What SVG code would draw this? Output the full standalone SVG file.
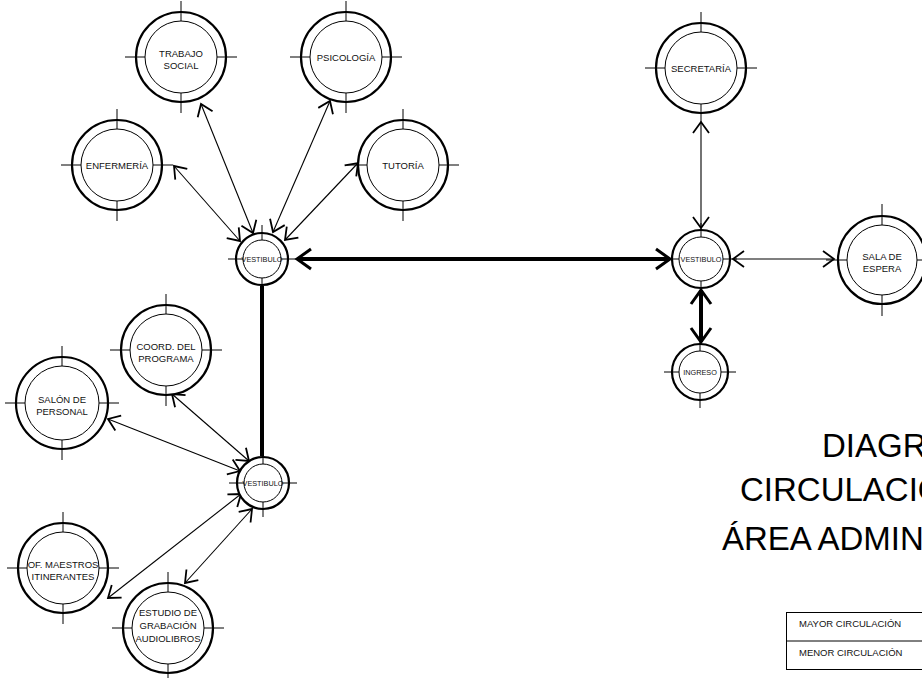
<svg xmlns="http://www.w3.org/2000/svg" width="922" height="678" viewBox="0 0 922 678">
  <style>
    .outer { fill: #fff; stroke: #000; stroke-width: 2.2; }
    .inner { fill: none; stroke: #000; stroke-width: 1; }
    .tick { fill: none; stroke: #000; stroke-width: 1; }
    .lbl { font-family: "Liberation Sans", Arial, sans-serif; font-size: 9.5px; text-anchor: middle; fill: #111; }
    .lbl-s { font-family: "Liberation Sans", Arial, sans-serif; font-size: 7.3px; text-anchor: middle; fill: #111; }
    .thin { fill: none; stroke: #000; stroke-width: 1.1; marker-start: url(#chev); marker-end: url(#chev); }
    .thick { fill: none; stroke: #000; stroke-width: 4; }
    .thick-arrow { marker-start: url(#chev-b); marker-end: url(#chev-b); }
    .title { font-family: "Liberation Sans", Arial, sans-serif; font-size: 33px; fill: #000; }
    .legend-text { font-family: "Liberation Sans", Arial, sans-serif; font-size: 9.5px; fill: #111; }
  </style>
  <defs>
    <marker id="chev" viewBox="-14 -10 16 20" markerWidth="16" markerHeight="20" refX="0" refY="0" orient="auto-start-reverse" markerUnits="userSpaceOnUse">
      <path d="M-11,-8 L0,0 L-11,8" fill="none" stroke="#000" stroke-width="1.8"/>
    </marker>
    <marker id="chev-b" viewBox="-18 -13 21 26" markerWidth="21" markerHeight="26" refX="0" refY="0" orient="auto-start-reverse" markerUnits="userSpaceOnUse">
      <path d="M-14,-10 L0,0 L-14,10" fill="none" stroke="#000" stroke-width="3"/>
    </marker>
  </defs>

  <rect width="922" height="678" fill="#fff"/>

  <!-- connectors -->
  <g id="connectors">
    <!-- main circulation -->
    <path class="thick thick-arrow" d="M297,259 H670"/>
    <path class="thick" d="M262,286 V456"/>
    <path class="thick thick-arrow" d="M701,290 V342"/>
    <!-- secondary circulation -->
    <path class="thin" d="M174,166 L240,241"/>
    <path class="thin" d="M201,104 L253,233"/>
    <path class="thin" d="M330,101 L273,232"/>
    <path class="thin" d="M358,163 L285,240"/>
    <path class="thin" d="M701,122 V228"/>
    <path class="thin" d="M733,259 H834"/>
    <path class="thin" d="M172,394 L249,461"/>
    <path class="thin" d="M108,419 L240,471"/>
    <path class="thin" d="M108,598 L241,494"/>
    <path class="thin" d="M185,583 L252,509"/>
  </g>

  <!-- large rooms -->
  <g id="n-trabajo-social" transform="translate(181,57)">
    <circle class="outer" r="45"/><circle class="inner" r="36"/>
    <path class="tick" d="M-56,0H-36M36,0H56M0,-56V-36M0,36V56"/>
    <text class="lbl" y="0">TRABAJO</text><text class="lbl" y="11.5">SOCIAL</text>
  </g>
  <g id="n-psicologia" transform="translate(346,57)">
    <circle class="outer" r="45"/><circle class="inner" r="36"/>
    <path class="tick" d="M-56,0H-36M36,0H56M0,-56V-36M0,36V56"/>
    <text class="lbl" y="3.5">PSICOLOGÍA</text>
  </g>
  <g id="n-enfermeria" transform="translate(117,165)">
    <circle class="outer" r="45"/><circle class="inner" r="36"/>
    <path class="tick" d="M-56,0H-36M36,0H56M0,-56V-36M0,36V56"/>
    <text class="lbl" y="3.5">ENFERMERÍA</text>
  </g>
  <g id="n-tutoria" transform="translate(403,165)">
    <circle class="outer" r="45"/><circle class="inner" r="36"/>
    <path class="tick" d="M-56,0H-36M36,0H56M0,-56V-36M0,36V56"/>
    <text class="lbl" y="3.5">TUTORÍA</text>
  </g>
  <g id="n-secretaria" transform="translate(701,68)">
    <circle class="outer" r="45"/><circle class="inner" r="36"/>
    <path class="tick" d="M-56,0H-36M36,0H56M0,-56V-36M0,36V56"/>
    <text class="lbl" y="3.5">SECRETARÍA</text>
  </g>
  <g id="n-sala-espera" transform="translate(882,260)">
    <circle class="outer" r="44"/><circle class="inner" r="35"/>
    <path class="tick" d="M-56,0H-35M35,0H56M0,-56V-35M0,35V56"/>
    <text class="lbl" y="0">SALA DE</text><text class="lbl" y="11.5">ESPERA</text>
  </g>
  <g id="n-coord" transform="translate(166,350)">
    <circle class="outer" r="45"/><circle class="inner" r="36"/>
    <path class="tick" d="M-56,0H-36M36,0H56M0,-56V-36M0,36V56"/>
    <text class="lbl" y="0">COORD. DEL</text><text class="lbl" y="11.5">PROGRAMA</text>
  </g>
  <g id="n-salon" transform="translate(62,403)">
    <circle class="outer" r="46"/><circle class="inner" r="37"/>
    <path class="tick" d="M-57,0H-37M37,0H57M0,-57V-37M0,37V57"/>
    <text class="lbl" y="0">SALÓN DE</text><text class="lbl" y="11.5">PERSONAL</text>
  </g>
  <g id="n-maestros" transform="translate(63,568)">
    <circle class="outer" r="45"/><circle class="inner" r="36"/>
    <path class="tick" d="M-56,0H-36M36,0H56M0,-56V-36M0,36V56"/>
    <text class="lbl" y="0">OF. MAESTROS</text><text class="lbl" y="11.5">ITINERANTES</text>
  </g>
  <g id="n-estudio" transform="translate(168,628)">
    <circle class="outer" r="45"/><circle class="inner" r="36"/>
    <path class="tick" d="M-56,0H-36M36,0H56M0,-56V-36M0,36V56"/>
    <text class="lbl" y="-12">ESTUDIO DE</text><text class="lbl" y="1">GRABACIÓN</text><text class="lbl" y="14">AUDIOLIBROS</text>
  </g>

  <!-- lobbies and entrance -->
  <g id="n-vestibulo-1" transform="translate(262,259)">
    <circle class="outer" r="26"/><circle class="inner" r="19"/>
    <path class="tick" d="M-34,0H-19M19,0H34M0,-34V-19M0,19V34"/>
    <text class="lbl-s" y="2.6">VESTIBULO</text>
  </g>
  <g id="n-vestibulo-2" transform="translate(701,259)">
    <circle class="outer" r="29"/><circle class="inner" r="22"/>
    <path class="tick" d="M-36,0H-22M22,0H36M0,-36V-22M0,22V36"/>
    <text class="lbl-s" y="2.6">VESTIBULO</text>
  </g>
  <g id="n-vestibulo-3" transform="translate(263,483)">
    <circle class="outer" r="26"/><circle class="inner" r="19"/>
    <path class="tick" d="M-34,0H-19M19,0H34M0,-34V-19M0,19V34"/>
    <text class="lbl-s" y="2.6">VESTIBULO</text>
  </g>
  <g id="n-ingreso" transform="translate(700,372)">
    <circle class="outer" r="28"/><circle class="inner" r="21"/>
    <path class="tick" d="M-36,0H-21M21,0H36M0,-36V-21M0,21V36"/>
    <text class="lbl-s" y="2.6">INGRESO</text>
  </g>

  <!-- title -->
  <g id="title">
    <text class="title" x="822" y="457">DIAGRAMA DE</text>
    <text class="title" x="740" y="501">CIRCULACIÓN</text>
    <text class="title" x="722" y="550">ÁREA ADMINISTRATIVA</text>
  </g>

  <!-- legend -->
  <g id="legend">
    <rect x="786.5" y="612.5" width="160" height="57" fill="none" stroke="#000" stroke-width="1"/>
    <line x1="786.5" y1="641" x2="946" y2="641" stroke="#000" stroke-width="1"/>
    <text class="legend-text" x="799" y="627">MAYOR CIRCULACIÓN</text>
    <text class="legend-text" x="799" y="656">MENOR CIRCULACIÓN</text>
  </g>
</svg>
